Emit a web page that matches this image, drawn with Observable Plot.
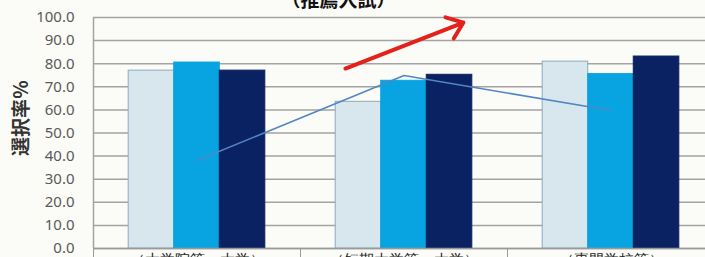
<!DOCTYPE html>
<html>
<head>
<meta charset="utf-8">
<script src="https://cdn.jsdelivr.net/npm/d3@7"></script>
<script src="https://cdn.jsdelivr.net/npm/@observablehq/plot@0.6"></script>
<style>
  html, body { margin: 0; padding: 0; background: #fbfbf7; overflow: hidden; }
  #chart svg { display: block; }
</style>
</head>
<body>
<div id="chart"></div>
<script>
// ---- data ----
const groups = ["（大学院等・大学）", "（短期大学等・大学）", "（専門学校等）"];
const seriesNames = ["平成22年度", "平成23年度", "平成24年度"];
const series1 = [77.0, 63.5, 80.9];
const series2 = [80.5, 72.6, 75.5];
const series3 = [77.0, 75.2, 83.1];
const lineValues = [38.1, 74.9, 59.7];
const yTicks = [0, 10, 20, 30, 40, 50, 60, 70, 80, 90, 100];
const titleText = "（推薦入試）";
const yLabel = "選択率％";
const arrowNote = [{x1: 0.717, y1: 77.9, x2: 1.287, y2: 97.8}];

// ---- build table ----
const seriesValues = [series1, series2, series3];
const colors = ["#d8e7ee", "#08a4e2", "#0a2261"];
const strokes = ["#8ea9c0", "#08a4e2", "#0a2261"];
const outer = 0.17;
const barFrac = (1 - 2 * outer) / 3;
const bars = [];
groups.forEach((g, gi) => {
  seriesNames.forEach((s, si) => {
    bars.push({gi, si, group: g, series: s, value: seriesValues[si][gi]});
  });
});
const linePts = groups.map((g, gi) => ({gi, value: lineValues[gi]}));
const xDomain = [-0.5, groups.length - 0.5];

const chart = Plot.plot({
  width: 705,
  height: 257,
  marginLeft: 93,
  marginRight: -9,
  marginTop: 17,
  marginBottom: 9,
  style: {background: "#fbfbf7", overflow: "visible"},
  x: {type: "linear", domain: xDomain},
  y: {domain: [0, 100]},
  marks: [
    Plot.gridY(yTicks, {stroke: "#a3a3a3", strokeOpacity: 1, strokeWidth: 1.5}),
    Plot.ruleX([xDomain[0]], {stroke: "#a3a3a3", strokeWidth: 1.5}),
    Plot.rectY(bars, {
      x1: d => d.gi - 0.5 + outer + d.si * barFrac,
      x2: d => d.gi - 0.5 + outer + (d.si + 1) * barFrac,
      y1: 0,
      y2: "value",
      fill: d => colors[d.si],
      stroke: d => strokes[d.si],
      strokeWidth: 1
    }),
    Plot.ruleY([0], {stroke: "#9a9a9a", strokeWidth: 1.5}),
    Plot.line(linePts, {x: "gi", y: "value", stroke: "#5286c4", strokeWidth: 1.5}),
    Plot.arrow(arrowNote, {x1: "x1", y1: "y1", x2: "x2", y2: "y2", stroke: "#e3221c", strokeWidth: 4, headLength: 7, headAngle: 75}),
    Plot.axisY(yTicks, {tickFormat: d3.format(".1f"), tickSize: 0, tickPadding: 19, fontSize: 15, fill: "#5a5a5a", label: null}),
    Plot.axisX([-0.5, 0.5, 1.5, 2.5], {tickSize: 10, stroke: "#9a9a9a", tickFormat: () => "", label: null}),
    Plot.axisX([0, 1, 2], {tickSize: 0, tickPadding: 6, tickFormat: i => groups[i], fontSize: 15, fill: "#222", label: null}),
    Plot.text([yLabel], {frameAnchor: "left", textAnchor: "middle", dx: -72, dy: -15, rotate: -90, fontSize: 19, fontWeight: "bold", fill: "#333", fontFamily: "Noto Sans CJK JP"}),
    Plot.text([titleText], {x: [0.684], y: [100], dy: -11, lineAnchor: "bottom", fontSize: 19, fontWeight: "bold", fill: "#111", fontFamily: "Noto Sans CJK JP"})
  ]
});
document.getElementById("chart").appendChild(chart);
</script>
</body>
</html>
